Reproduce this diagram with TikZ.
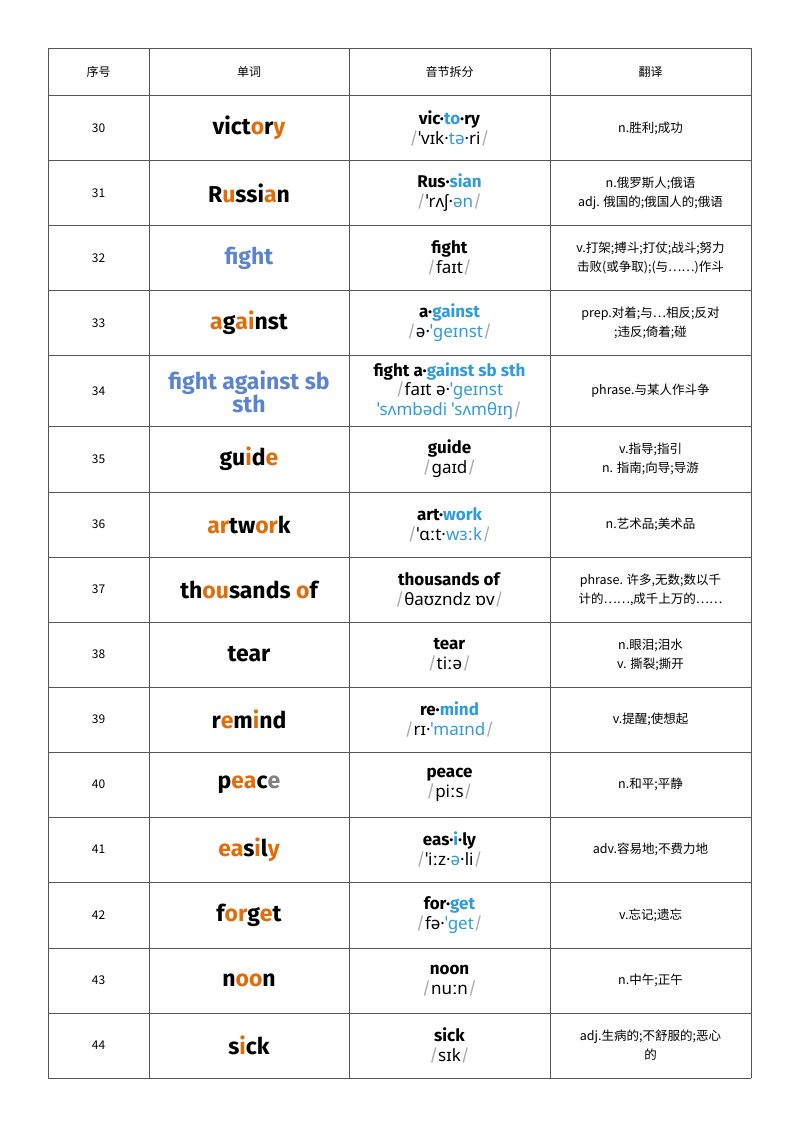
\documentclass[tikz,border=0pt]{standalone}
\usepackage{fontspec}
\setmainfont{Fira Sans}
\newfontfamily\cjk{Noto Sans CJK SC}
\newfontfamily\ipa{Noto Sans}
\definecolor{org}{HTML}{E36C0A}
\definecolor{sb}{HTML}{5B84CF}
\definecolor{syl}{HTML}{2E9BE0}
\definecolor{sl}{HTML}{AAAAAA}
\definecolor{gline}{HTML}{555555}
\newcommand{\Or}[1]{\textcolor{org}{#1}}
\newcommand{\Bl}[1]{\textcolor{syl}{#1}}
\newcommand{\Sl}{\textcolor{sl}{/}}
\newcommand{\Gy}[1]{\textcolor{gray}{#1}}
\newcommand{\Ip}[1]{{\ipa #1}}
\begin{document}
\begin{tikzpicture}[x=1pt,y=-1pt,
  num/.style={font=\cjk\fontsize{12}{14}\selectfont},
  hd/.style={font=\cjk\fontsize{12}{14}\selectfont},
  wd/.style={font=\fontsize{23}{22}\selectfont\bfseries},
  syl/.style={font=\fontsize{17}{20}\selectfont, align=center},
  tr/.style={font=\cjk\fontsize{12.5}{19}\selectfont, align=center}]
\useasboundingbox (0,0) rectangle (800,1132);
\foreach \y in {48,95,160,225,290,355,426,492,557,622,687,752,817,882,948,1013,1078}
  \draw[gline,line width=0.8pt] (48,\y) -- (751,\y);
\foreach \x in {48,149,349,550,751}
  \draw[gline,line width=0.8pt] (\x,48) -- (\x,1078);
\node[hd] (h1) at (98.5,71.5) {序号};
\node[hd] (h2) at (249,71.5) {单词};
\node[hd] (h3) at (449.5,71.5) {音节拆分};
\node[hd] (h4) at (650.5,71.5) {翻译};
\def\row#1#2#3#4#5#6{%
  \node[num] (n#1) at (98.5,#2) {#1};
  \node[wd] (w#1) at (249,#2) {#3};
  \node[syl] (s#1) at (449.5,#2) {\textbf{#4}\\\Sl\Ip{#5}\Sl};
  \node[tr] (t#1) at (650.5,#2) {#6};}
\row{30}{128}{vict\Or{o}r\Or{y}}{vic·\Bl{to}·ry}{ˈvɪk·\Bl{tə}·ri}{n.胜利;成功}
\row{31}{193}{R\Or{u}ssi\Or{a}n}{Rus·\Bl{sian}}{ˈrʌʃ·\Bl{ən}}{n.俄罗斯人;俄语\\adj. 俄国的;俄国人的;俄语}
\row{32}{258}{\textcolor{sb}{fight}}{fight}{faɪt}{v.打架;搏斗;打仗;战斗;努力\\击败(或争取);(与……)作斗}
\row{33}{323}{\Or{a}g\Or{ai}nst}{a·\Bl{gainst}}{ə·\Bl{ˈgeɪnst}}{prep.对着;与…相反;反对\\;违反;倚着;碰}
\node[wd,align=center,text=sb] (w34) at (249,392) {fight against sb\\[0pt]sth};
\node[num] (n34) at (98.5,391) {34};
\node[syl,font=\fontsize{17}{19.5}\selectfont] (s34) at (449.5,391) {\textbf{fight a·\Bl{gainst sb sth}}\\\Sl\Ip{faɪt ə·\Bl{ˈgeɪnst}}\\\Ip{\Bl{ˈsʌmbədi ˈsʌmθɪŋ}}\Sl};
\node[tr] (t34) at (650.5,391) {phrase.与某人作斗争};
\row{35}{459}{gu\Or{i}d\Or{e}}{guide}{gaɪd}{v.指导;指引\\n. 指南;向导;导游}
\row{36}{524.5}{\Or{ar}tw\Or{or}k}{art·\Bl{work}}{ˈɑːt·\Bl{wɜːk}}{n.艺术品;美术品}
\row{37}{589.5}{th\Or{ou}sands \Or{o}f}{thousands of}{θaʊzndz ɒv}{phrase. 许多,无数;数以千\\计的……,成千上万的……}
\row{38}{654.5}{tear}{tear}{tiːə}{n.眼泪;泪水\\v. 撕裂;撕开}
\row{39}{719.5}{r\Or{e}m\Or{i}nd}{re·\Bl{mind}}{rɪ·\Bl{ˈmaɪnd}}{v.提醒;使想起}
\row{40}{784.5}{p\Or{ea}c\Gy{e}}{peace}{piːs}{n.和平;平静}
\row{41}{849.5}{\Or{ea}s\Or{i}l\Or{y}}{eas·\Bl{i}·ly}{ˈiːz·\Bl{ə}·li}{adv.容易地;不费力地}
\row{42}{915}{f\Or{or}g\Or{e}t}{for·\Bl{get}}{fə·\Bl{ˈget}}{v.忘记;遗忘}
\row{43}{980.5}{n\Or{oo}n}{noon}{nuːn}{n.中午;正午}
\row{44}{1045.5}{s\Or{i}ck}{sick}{sɪk}{adj.生病的;不舒服的;恶心\\的}
\end{tikzpicture}
\end{document}
